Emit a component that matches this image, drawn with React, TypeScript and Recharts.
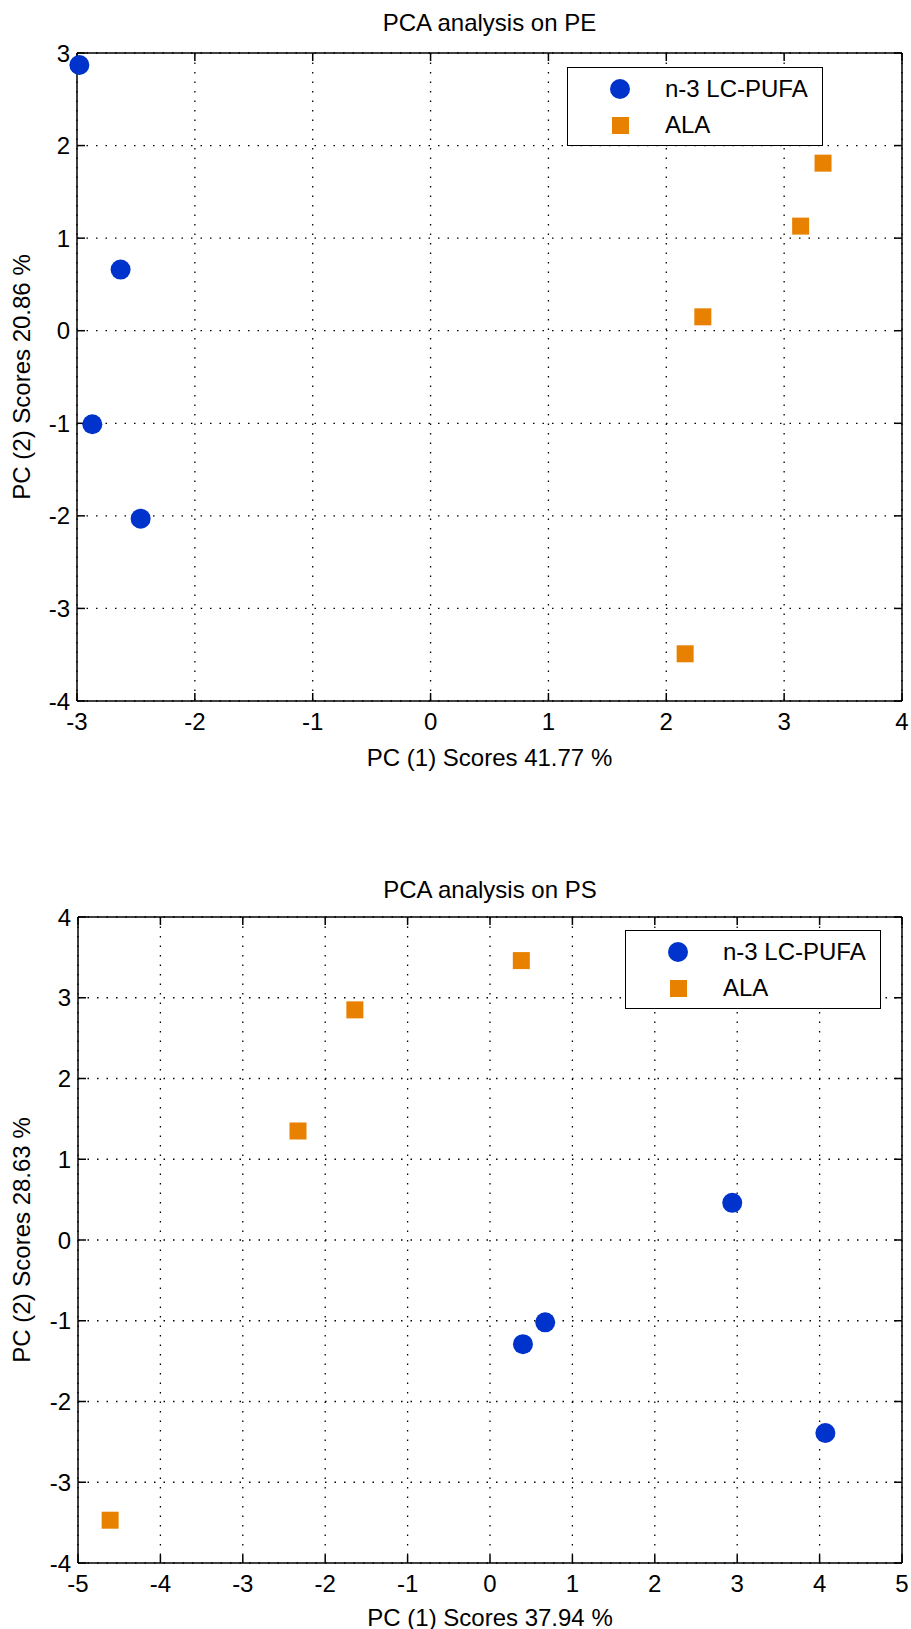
import React from "react";
import { ScatterChart, Scatter, XAxis, YAxis, CartesianGrid, Legend } from "recharts";

const seriesNames = ["n-3 LC-PUFA", "ALA"];

const peLcPufa = [
  { x: -2.98, y: 2.87 },
  { x: -2.63, y: 0.66 },
  { x: -2.87, y: -1.01 },
  { x: -2.46, y: -2.03 },
];
const peAla = [
  { x: 3.33, y: 1.81 },
  { x: 3.14, y: 1.13 },
  { x: 2.31, y: 0.15 },
  { x: 2.16, y: -3.49 },
];
const peXTicks = [-3, -2, -1, 0, 1, 2, 3, 4];
const peYTicks = [-4, -3, -2, -1, 0, 1, 2, 3];

const psLcPufa = [
  { x: 2.94, y: 0.46 },
  { x: 0.67, y: -1.02 },
  { x: 0.4, y: -1.29 },
  { x: 4.07, y: -2.39 },
];
const psAla = [
  { x: -1.64, y: 2.85 },
  { x: -2.33, y: 1.35 },
  { x: 0.38, y: 3.46 },
  { x: -4.61, y: -3.47 },
];
const psXTicks = [-5, -4, -3, -2, -1, 0, 1, 2, 3, 4, 5];
const psYTicks = [-4, -3, -2, -1, 0, 1, 2, 3, 4];

const BLUE = "#0033CC";
const ORANGE = "#E88000";
const FONT = '"Liberation Sans", Arial, sans-serif';
const axisStroke = { stroke: "#000", strokeWidth: 1.5 };
const tickFont = { fill: "#000", fontSize: 24, fontFamily: FONT };
const noLabel = () => "";

const BlueDot = (props: any) => <circle cx={props.cx} cy={props.cy} r={10} fill={BLUE} />;
const OrangeSquare = (props: any) => (
  <rect x={props.cx - 8.5} y={props.cy - 8.5} width={17} height={17} fill={ORANGE} />
);
// hidden series only bind the frame axes (top/right and inner tick marks)
const NoMark = () => <g />;

const PcaLegend = () => (
  <div
    style={{
      position: "relative",
      width: 256,
      height: 79,
      boxSizing: "border-box",
      border: "1.5px solid #000",
      background: "#fff",
      fontFamily: FONT,
      fontSize: 24,
      color: "#000",
    }}
  >
    <svg width={256} height={79} style={{ position: "absolute", left: 0, top: 0 }}>
      <circle cx={52} cy={21} r={10} fill={BLUE} />
      <rect x={44} y={49} width={17} height={17} fill={ORANGE} />
    </svg>
    <span style={{ position: "absolute", left: 97, top: 21, transform: "translateY(-50%)", lineHeight: 1, whiteSpace: "nowrap" }}>
      {seriesNames[0]}
    </span>
    <span style={{ position: "absolute", left: 97, top: 57, transform: "translateY(-50%)", lineHeight: 1, whiteSpace: "nowrap" }}>
      {seriesNames[1]}
    </span>
  </div>
);

type PanelProps = {
  top: number;
  height: number;
  plotTop: number;
  plotBottom: number;
  plotLeft: number;
  xDomain: [number, number];
  yDomain: [number, number];
  xTicks: number[];
  yTicks: number[];
  lcPufa: { x: number; y: number }[];
  ala: { x: number; y: number }[];
  title: string;
  xLabel: string;
  yLabel: string;
  titleY: number;
  xLabelY: number;
  legendLeft: number;
  legendTop: number;
};

const textStyle: React.CSSProperties = {
  position: "absolute",
  fontFamily: FONT,
  fontSize: 24,
  lineHeight: 1,
  whiteSpace: "nowrap",
  color: "#000",
};

function PcaPanel(p: PanelProps) {
  const bottomAxisHeight = p.height - p.plotBottom;
  const centerX = (p.plotLeft + 902) / 2;
  return (
    <div style={{ position: "absolute", left: 0, top: p.top, width: 911, height: p.height }}>
      <ScatterChart
        width={911}
        height={p.height}
        margin={{ top: p.plotTop, right: 9, bottom: 0, left: 0 }}
      >
        <CartesianGrid stroke="#000" strokeDasharray="1.5 8" strokeWidth={1.3} />
        <XAxis
          type="number"
          dataKey="x"
          domain={p.xDomain}
          ticks={p.xTicks}
          interval={0}
          height={bottomAxisHeight}
          tickSize={0}
          tickMargin={12}
          axisLine={axisStroke}
          tickLine={false}
          tick={tickFont}
        />
        <XAxis
          xAxisId="in"
          type="number"
          dataKey="x"
          mirror
          domain={p.xDomain}
          ticks={p.xTicks}
          interval={0}
          height={1}
          tickSize={8}
          axisLine={false}
          tickLine={axisStroke}
          tickFormatter={noLabel}
        />
        <XAxis
          xAxisId="top"
          orientation="top"
          type="number"
          dataKey="x"
          mirror
          domain={p.xDomain}
          ticks={p.xTicks}
          interval={0}
          height={1}
          tickSize={8}
          axisLine={axisStroke}
          tickLine={axisStroke}
          tickFormatter={noLabel}
        />
        <YAxis
          type="number"
          dataKey="y"
          domain={p.yDomain}
          ticks={p.yTicks}
          interval={0}
          width={p.plotLeft}
          tickSize={0}
          tickMargin={7}
          axisLine={axisStroke}
          tickLine={false}
          tick={tickFont}
        />
        <YAxis
          yAxisId="in"
          type="number"
          dataKey="y"
          mirror
          domain={p.yDomain}
          ticks={p.yTicks}
          interval={0}
          width={1}
          tickSize={8}
          axisLine={false}
          tickLine={axisStroke}
          tickFormatter={noLabel}
        />
        <YAxis
          yAxisId="right"
          orientation="right"
          type="number"
          dataKey="y"
          mirror
          domain={p.yDomain}
          ticks={p.yTicks}
          interval={0}
          width={1}
          tickSize={8}
          axisLine={axisStroke}
          tickLine={axisStroke}
          tickFormatter={noLabel}
        />
        <Legend
          layout="vertical"
          align="center"
          verticalAlign="middle"
          content={() => <PcaLegend />}
          wrapperStyle={{ position: "absolute", left: p.legendLeft, top: p.legendTop, width: 256, height: 79 }}
        />
        <Scatter data={p.lcPufa} xAxisId="in" yAxisId="in" shape={NoMark} legendType="none" isAnimationActive={false} />
        <Scatter data={p.lcPufa} xAxisId="top" yAxisId="right" shape={NoMark} legendType="none" isAnimationActive={false} />
        <Scatter name={seriesNames[0]} data={p.lcPufa} fill={BLUE} shape={BlueDot} isAnimationActive={false} />
        <Scatter name={seriesNames[1]} data={p.ala} fill={ORANGE} shape={OrangeSquare} isAnimationActive={false} />
      </ScatterChart>
      <div style={{ ...textStyle, left: centerX, top: p.titleY, transform: "translate(-50%, -50%)" }}>{p.title}</div>
      <div style={{ ...textStyle, left: centerX, top: p.xLabelY, transform: "translate(-50%, -50%)" }}>{p.xLabel}</div>
      <div
        style={{
          ...textStyle,
          left: 22,
          top: (p.plotTop + p.plotBottom) / 2,
          transform: "translate(-50%, -50%) rotate(-90deg)",
        }}
      >
        {p.yLabel}
      </div>
    </div>
  );
}

export default function App() {
  return (
    <div style={{ position: "absolute", left: 0, top: 0, width: 911, height: 1629, background: "#fff" }}>
      <PcaPanel
        top={0}
        height={760}
        plotTop={53}
        plotBottom={701}
        plotLeft={77}
        xDomain={[-3, 4]}
        yDomain={[-4, 3]}
        xTicks={peXTicks}
        yTicks={peYTicks}
        lcPufa={peLcPufa}
        ala={peAla}
        title="PCA analysis on PE"
        xLabel="PC (1) Scores 41.77 %"
        yLabel="PC (2) Scores 20.86 %"
        titleY={23}
        xLabelY={758}
        legendLeft={567}
        legendTop={67}
      />
      <PcaPanel
        top={760}
        height={869}
        plotTop={157}
        plotBottom={803}
        plotLeft={78}
        xDomain={[-5, 5]}
        yDomain={[-4, 4]}
        xTicks={psXTicks}
        yTicks={psYTicks}
        lcPufa={psLcPufa}
        ala={psAla}
        title="PCA analysis on PS"
        xLabel="PC (1) Scores 37.94 %"
        yLabel="PC (2) Scores 28.63 %"
        titleY={130}
        xLabelY={858}
        legendLeft={625}
        legendTop={170}
      />
    </div>
  );
}
